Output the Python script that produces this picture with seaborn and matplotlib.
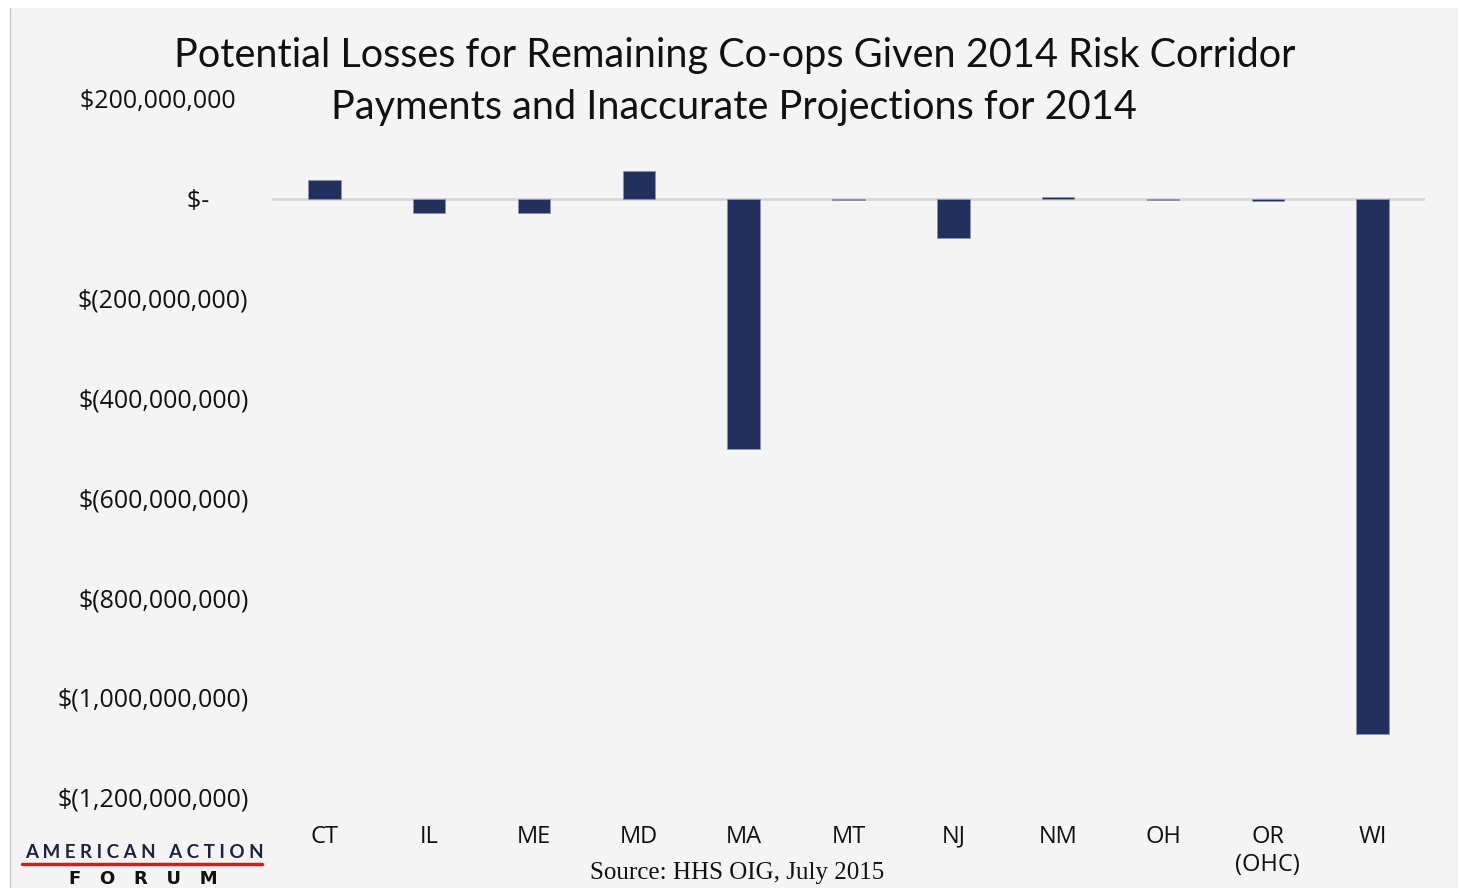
"""Potential losses for remaining co-ops, 2014 risk corridor payments."""

import matplotlib
matplotlib.use("Agg")
import matplotlib.pyplot as plt
import pandas as pd
import seaborn as sns
from matplotlib.lines import Line2D
from matplotlib.patches import Rectangle

STATES = ["CT", "IL", "ME", "MD", "MA", "MT", "NJ", "NM", "OH", "OR\n(OHC)", "WI"]
LOSSES = [38e6, -28e6, -28e6, 55e6, -503e6, -3e6, -78e6, 3e6, -3e6, -5e6, -1073e6]

Y_TICKS = [200e6, 0, -200e6, -400e6, -600e6, -800e6, -1000e6, -1200e6]
Y_TICK_LABELS = [
    "$200,000,000  ",
    "$-      ",
    "$(200,000,000)",
    "$(400,000,000)",
    "$(600,000,000)",
    "$(800,000,000)",
    "$(1,000,000,000)",
    "$(1,200,000,000)",
]

BG = "#f4f4f4"
NAVY = "#22305e"
TEXT = "#111111"
LABEL_FONT = ["Open Sans", "DejaVu Sans"]

sns.set_theme(style="white")
plt.rcParams["font.family"] = ["Lato", "DejaVu Sans"]

df = pd.DataFrame({"state": STATES, "loss": LOSSES})

fig = plt.figure(figsize=(14.6, 8.88), dpi=100, facecolor="white")
fig.patches.append(
    Rectangle((10 / 1460, 0), 1 - 12 / 1460, 1 - 8 / 888, transform=fig.transFigure,
              facecolor=BG, edgecolor="none", zorder=-10)
)
fig.lines.append(
    Line2D([10 / 1460, 10 / 1460], [0, 1 - 8 / 888], transform=fig.transFigure,
           color="#c8c8c8", linewidth=1)
)

ax = fig.add_axes([272 / 1460, 1 - 797 / 888, (1425 - 272) / 1460, (797 - 99) / 888])
ax.set_facecolor(BG)

sns.barplot(data=df, x="state", y="loss", color=NAVY, width=0.31, saturation=1,
            edgecolor="#8a93b0", linewidth=0.6, ax=ax, zorder=3)
ax.axhline(0, color="#d9d9d9", linewidth=2, zorder=2)

ax.set_ylim(-1200e6, 200e6)
ax.set_xlim(-0.5, len(STATES) - 0.5)
ax.set_yticks(Y_TICKS)
ax.set_yticklabels(Y_TICK_LABELS, fontsize=18, color=TEXT, family=LABEL_FONT)
for lbl in ax.get_xticklabels():
    lbl.set_family(LABEL_FONT)
    lbl.set_fontsize(17)
    lbl.set_color(TEXT)
    lbl.set_linespacing(1.25)
ax.tick_params(axis="y", length=0, pad=17)
ax.tick_params(axis="x", length=0, pad=20)
ax.set_xlabel("")
ax.set_ylabel("")
for spine in ax.spines.values():
    spine.set_visible(False)

fig.text(0.503, 1 - 55 / 888, "Potential Losses for Remaining Co-ops Given 2014 Risk Corridor",
         ha="center", va="center", fontsize=28.5, color=TEXT)
fig.text(0.503, 1 - 107 / 888, "Payments and Inaccurate Projections for 2014",
         ha="center", va="center", fontsize=28.5, color=TEXT)

fig.text(737 / 1460, 1 - 873 / 888, "Source: HHS OIG, July 2015", ha="center", va="center",
         fontsize=18, color=TEXT, family=["Liberation Serif", "DejaVu Serif"])

# AAF logo
fig.text(144 / 1460, 1 - 852 / 888, "A M E R I C A N   A C T I O N", ha="center", va="center",
         fontsize=13.5, color="#1c2340", fontweight="bold")
fig.lines.append(
    Line2D([22 / 1460, 262 / 1460], [1 - 864 / 888, 1 - 864 / 888], transform=fig.transFigure,
           color="#cc1f1f", linewidth=2.5)
)
fig.text(143 / 1460, 1 - 879 / 888, "F   O   R   U   M", ha="center", va="center",
         fontsize=13, color="#111111", fontweight="bold", family=["DejaVu Sans"])

fig.savefig("out.png", dpi=100, facecolor=fig.get_facecolor())
